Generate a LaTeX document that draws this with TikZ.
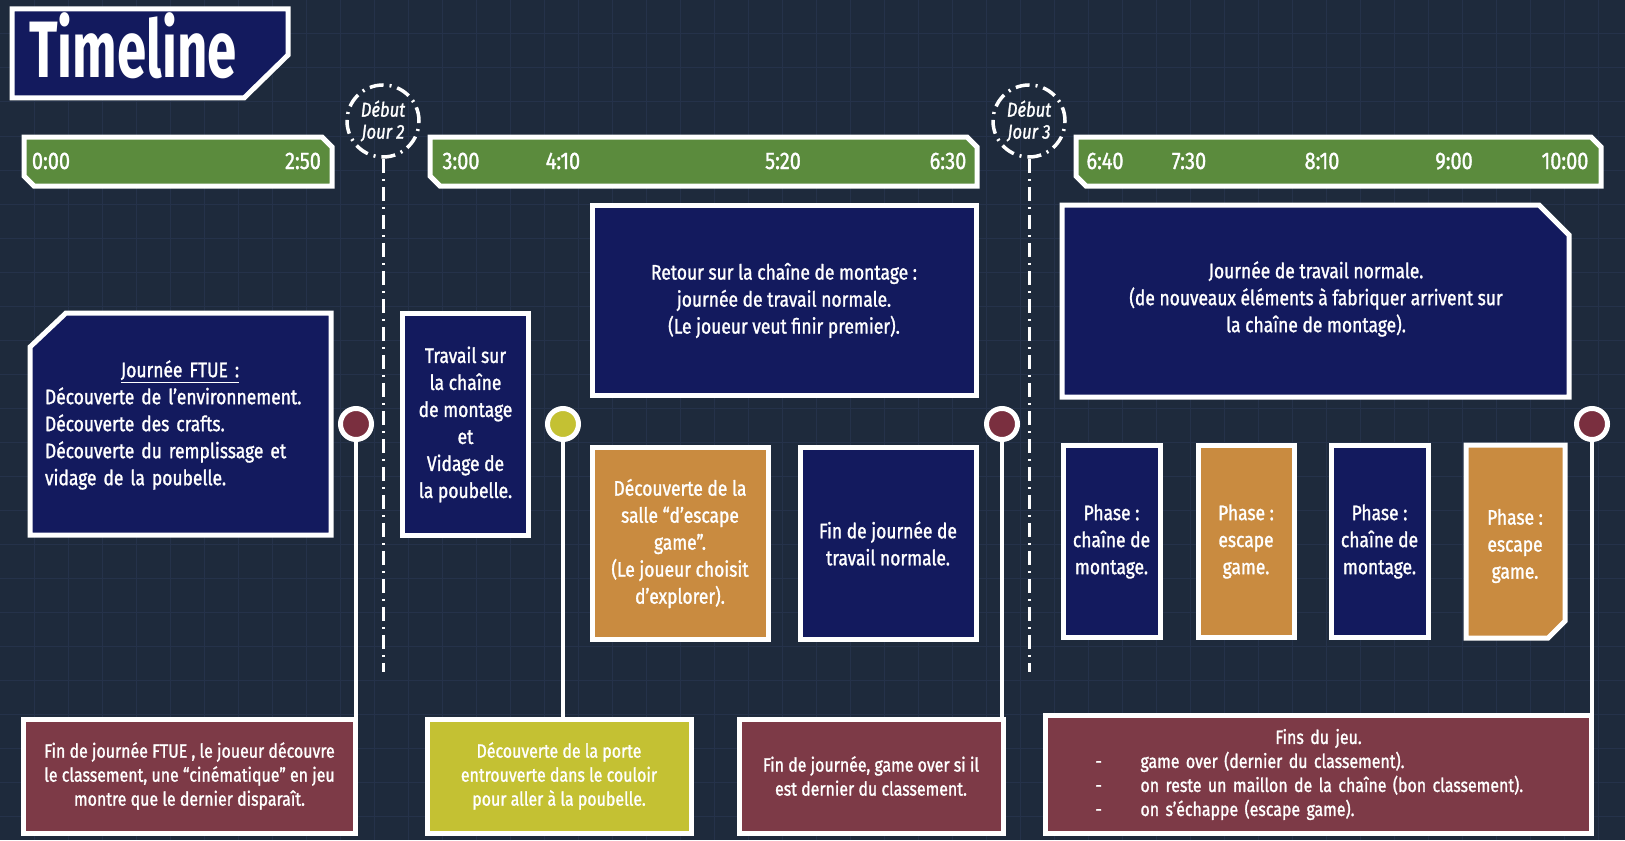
\documentclass[tikz,border=0pt]{standalone}
\usepackage{fontspec}
\setmainfont{Fira Sans}[FakeStretch=0.83, FakeBold=1.3]
\newfontfamily\titlefont{Fira Sans}[FakeStretch=0.66]
\usepackage{xcolor}
\usepackage{tikz}
\usetikzlibrary{positioning}

\definecolor{bgslate}{HTML}{1E2A3C}
\definecolor{gridline}{HTML}{25324A}
\definecolor{navy}{HTML}{131A5E}
\definecolor{barGreen}{HTML}{5B8B3D}
\definecolor{ochre}{HTML}{C98B40}
\definecolor{wine}{HTML}{7D3A47}
\definecolor{dotwine}{HTML}{7A2F3F}
\definecolor{lime}{HTML}{C4C133}

\begin{document}
\begin{tikzpicture}[
    x=0.5pt, y=-0.5pt,
    every node/.style={text=white, font=\fontsize{10.5}{13.5}\selectfont},
    panel/.style={draw=white, line width=2.5pt, fill=navy},
    card/.style={draw=white, line width=2.5pt, inner sep=0pt, align=center},
    navycard/.style={card, fill=navy},
    ochrecard/.style={card, fill=ochre},
    endcard/.style={card, fill=wine, font=\fontsize{9.6}{12}\selectfont},
    bar/.style={draw=white, line width=2.5pt, fill=barGreen},
    tlabel/.style={font=\fontsize{12}{13}\selectfont, anchor=base},
    marker/.style={circle, draw=white, line width=2.5pt, minimum size=15.5pt, inner sep=0pt},
    stem/.style={white, line width=2pt},
    daymark/.style={circle, draw=white, line width=1.75pt, dash pattern=on 7pt off 3pt on 1pt off 3pt,
        minimum size=36pt, inner sep=0pt, align=center, font=\itshape\fontsize{10}{11}\selectfont},
    dayline/.style={white, line width=1.5pt, dash pattern=on 7pt off 3pt on 1pt off 3pt}
]
% background
\fill[bgslate] (0,0) rectangle (1625,840);
\useasboundingbox (0,0) rectangle (1625,840);
\foreach \gx in {34,68,...,1625} \draw[gridline, line width=0.5pt] (\gx,0) -- (\gx,840);
\foreach \gy in {34,68,...,840} \draw[gridline, line width=0.5pt] (0,\gy) -- (1625,\gy);

% title
\draw[panel] (12,9) -- (288,9) -- (288,55) -- (244,98) -- (12,98) -- cycle;
\node[anchor=base west, inner sep=0pt, font=\titlefont\bfseries\fontsize{40}{40}\selectfont] (title) at (29,77) {Timeline};

% time bars
\draw[bar] (24,137) -- (322,137) -- (332,147) -- (332,186) -- (34,186) -- (24,176) -- cycle;
\draw[bar] (430,137) -- (967,137) -- (977,147) -- (977,186) -- (440,186) -- (430,176) -- cycle;
\draw[bar] (1076,137) -- (1591,137) -- (1601,147) -- (1601,186) -- (1086,186) -- (1076,176) -- cycle;
\node[tlabel] (t000) at (51,169) {0:00};
\node[tlabel] (t250) at (303,169) {2:50};
\node[tlabel] (t300) at (461,169) {3:00};
\node[tlabel] (t410) at (563,169) {4:10};
\node[tlabel] (t520) at (783,169) {5:20};
\node[tlabel] (t630) at (948,169) {6:30};
\node[tlabel] (t640) at (1105,169) {6:40};
\node[tlabel] (t730) at (1189,169) {7:30};
\node[tlabel] (t810) at (1322,169) {8:10};
\node[tlabel] (t900) at (1454,169) {9:00};
\node[tlabel] (t1000) at (1565,169) {10:00};

% day markers
\node[daymark] (jour2) at (383,121) {Début\\Jour 2};
\node[daymark] (jour3) at (1029,121) {Début\\Jour 3};
\coordinate (jour2end) at (383,672);
\coordinate (jour3end) at (1029,672);
\draw[dayline] (jour2) -- (jour2end);
\draw[dayline] (jour3) -- (jour3end);

% day 1
\draw[panel] (30,347) -- (66,313) -- (331,313) -- (331,535) -- (30,535) -- cycle;
\node[align=left, text width=135pt, inner sep=0pt] (ftue) at (180,425)
    {\makebox[135pt]{\underline{Journée FTUE :}}\\
     Découverte de l’environnement.\\
     Découverte des crafts.\\
     Découverte du remplissage et\\
     vidage de la poubelle.};

% day 2
\node[navycard, minimum width=63pt, minimum height=111pt] (travail) at (465.5,424.5)
    {Travail sur\\la chaîne\\de montage\\et\\Vidage de\\la poubelle.};
\node[navycard, minimum width=192pt, minimum height=95pt] (retour) at (784,300.5)
    {Retour sur la chaîne de montage :\\journée de travail normale.\\(Le joueur veut finir premier).};
\node[ochrecard, minimum width=88pt, minimum height=96pt] (salle) at (680,543.5)
    {Découverte de la\\salle “d’escape\\game”.\\(Le joueur choisit\\d’explorer).};
\node[navycard, minimum width=88pt, minimum height=96pt] (finjour) at (888,543.5)
    {Fin de journée de\\travail normale.};

% day 3
\draw[panel] (1062,205) -- (1539,205) -- (1569,235) -- (1569,397) -- (1062,397) -- cycle;
\node[align=center] (normale) at (1316,299)
    {Journée de travail normale.\\(de nouveaux éléments à fabriquer arrivent sur\\la chaîne de montage).};
\node[navycard, minimum width=48.5pt, minimum height=96pt] (phase1) at (1111.5,541.5)
    {Phase :\\chaîne de\\montage.};
\node[ochrecard, minimum width=48pt, minimum height=96pt] (phase2) at (1246,541.5)
    {Phase :\\escape\\game.};
\node[navycard, minimum width=48.5pt, minimum height=96pt] (phase3) at (1379.5,541.5)
    {Phase :\\chaîne de\\montage.};
\draw[draw=white, line width=2.5pt, fill=ochre] (1466,445) -- (1565,445) -- (1565,621) -- (1548,638) -- (1466,638) -- cycle;
\node[align=center] (phase4) at (1515,546) {Phase :\\escape\\game.};

% endings
\node[endcard, minimum width=166pt, minimum height=57pt] (fin1) at (189.5,776)
    {Fin de journée FTUE , le joueur découvre\\le classement, une “cinématique” en jeu\\montre que le dernier disparaît.};
\node[endcard, fill=lime, minimum width=132pt, minimum height=57pt] (porte) at (559,776)
    {Découverte de la porte\\entrouverte dans le couloir\\pour aller à la poubelle.};
\node[endcard, minimum width=132pt, minimum height=57pt] (fin2) at (871,776)
    {Fin de journée, game over si il\\est dernier du classement.};
\node[endcard, align=left, text width=223pt, minimum width=273pt, minimum height=59pt] (fins) at (1318.5,774.5)
    {\makebox[223pt]{Fins du jeu.}\\
     \makebox[22.5pt][l]{-}game over (dernier du classement).\\
     \makebox[22.5pt][l]{-}on reste un maillon de la chaîne (bon classement).\\
     \makebox[22.5pt][l]{-}on s’échappe (escape game).};

% event markers
\node[marker, fill=dotwine] (m1) at (356,424) {};
\node[marker, fill=lime] (m2) at (563,424) {};
\node[marker, fill=dotwine] (m3) at (1002,424) {};
\node[marker, fill=dotwine] (m4) at (1592,424) {};
\draw[stem] (m1.south) -- (m1.south |- fin1.north);
\draw[stem] (m2.south) -- (m2.south |- porte.north);
\draw[stem] (m3.south) -- (m3.south |- fin2.north);
\draw[stem] (m4.south) -- (m4.south |- fins.north);
\end{tikzpicture}
\end{document}
